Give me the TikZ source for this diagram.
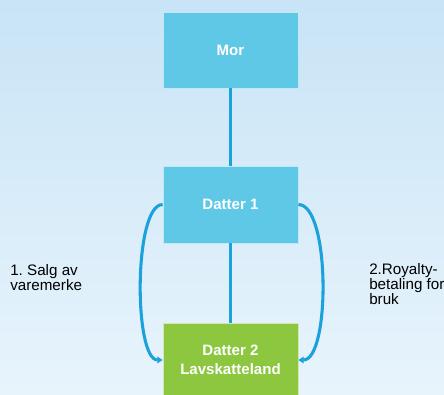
\documentclass[tikz,border=0pt]{standalone}
\usepackage{fontspec}
\setmainfont{Liberation Sans}
\usetikzlibrary{arrows.meta}
\frenchspacing
\definecolor{boxblue}{RGB}{94,200,230}
\definecolor{boxgreen}{RGB}{141,198,63}
\definecolor{linkblue}{RGB}{27,161,219}
\definecolor{bgtop}{RGB}{200,228,246}
\definecolor{bgbot}{RGB}{232,244,252}
\begin{document}
\begin{tikzpicture}[x=0.75pt,y=-0.75pt,
  orgbox/.style={rectangle, minimum width=101.25pt, inner sep=0pt, font=\fontsize{11.3}{14}\selectfont\bfseries, text=white, align=center, draw=white!60!boxblue, line width=0.6pt},
  link/.style={draw=linkblue, line width=2.8pt},
  flow/.style={draw=linkblue, line width=2.3pt, -{Triangle[length=4pt,width=5pt]}},
  lbl/.style={font=\fontsize{11.4}{11.4}\selectfont, align=left, anchor=north west, inner sep=0pt}]
\shade[top color=bgtop, bottom color=bgbot] (0,0) rectangle (444,394);
\useasboundingbox (0,0) rectangle (444,394);
\node[orgbox, fill=boxblue, minimum height=57pt] (mor) at (230.5,50) {Mor};
\node[orgbox, fill=boxblue, minimum height=57.75pt] (d1) at (230.5,204.5) {Datter 1};
\node[orgbox, fill=boxgreen, draw=white!60!boxgreen, minimum height=55.5pt] (d2) at (230.5,360) {Datter 2\\Lavskatteland};
\draw[link] (mor.south) -- (d1.north);
\draw[link] (d1.south) -- (d2.north);
\draw[flow] (d1.west) .. controls +(-29,0) and +(-29,0) .. (d2.west);
\draw[flow] (d1.east) .. controls +(32,0) and +(32,0) .. (d2.east);
\node[lbl] (l1) at (10,264) {1. Salg av\\varemerke};
\node[lbl] (l2) at (369,263) {2.Royalty-\\betaling for\\bruk};
\end{tikzpicture}
\end{document}
